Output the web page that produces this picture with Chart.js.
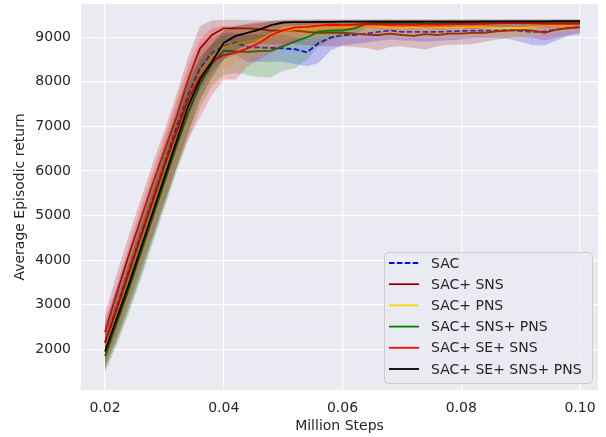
<!DOCTYPE html>
<html>
<head>
<meta charset="utf-8">
<script src="https://cdn.jsdelivr.net/npm/chart.js@4/dist/chart.umd.min.js"></script>
<style>
  body { margin: 0; background: #fff; }
  canvas { display: block; }
</style>
</head>
<body>
<canvas id="chart" width="606" height="437"></canvas>
<script>
// x positions (million steps)
const steps = [0.020, 0.022, 0.024, 0.026, 0.028, 0.030, 0.032, 0.034, 0.036, 0.038,
  0.040, 0.042, 0.044, 0.046, 0.048, 0.050, 0.052, 0.054, 0.056, 0.058,
  0.060, 0.062, 0.064, 0.066, 0.068, 0.070, 0.072, 0.074, 0.076, 0.078,
  0.080, 0.082, 0.084, 0.086, 0.088, 0.090, 0.092, 0.094, 0.096, 0.098, 0.100];

const xTicks = [0.02, 0.04, 0.06, 0.08, 0.10];
const yTicks = [2000, 3000, 4000, 5000, 6000, 7000, 8000, 9000];

// SAC
const sacMean = [2150, 2950, 3750, 4550, 5350, 6150, 6950, 7700, 8300, 8650,
  8800, 8880, 8780, 8770, 8760, 8750, 8730, 8660, 8870, 8990,
  9050, 9050, 9080, 9120, 9150, 9120, 9120, 9120, 9120, 9130,
  9140, 9150, 9150, 9150, 9160, 9140, 9120, 9130, 9170, 9210, 9230];
const sacLow = [1700, 2500, 3300, 4100, 4900, 5700, 6450, 7200, 7800, 8250,
  8500, 8600, 8450, 8450, 8450, 8450, 8400, 8350, 8420, 8700,
  8820, 8850, 8880, 8920, 8950, 8930, 8920, 8900, 8920, 8930,
  8950, 8980, 8990, 8980, 8960, 8900, 8820, 8820, 8920, 9020, 9050];
const sacHigh = [2600, 3400, 4200, 5000, 5800, 6600, 7400, 8150, 8750, 9000,
  9100, 9100, 9050, 9050, 9050, 9050, 9000, 8980, 9200, 9250,
  9280, 9290, 9300, 9310, 9320, 9300, 9300, 9300, 9300, 9310,
  9310, 9320, 9320, 9320, 9320, 9310, 9300, 9300, 9320, 9340, 9350];

// SAC+ SNS
const snsMean = [2380, 3250, 4100, 4900, 5700, 6450, 7200, 8050, 8750, 9050,
  9200, 9200, 9200, 9180, 9150, 9150, 9150, 9120, 9100, 9100,
  9100, 9080, 9060, 9050, 9080, 9050, 9030, 9070, 9050, 9080,
  9080, 9100, 9100, 9130, 9150, 9170, 9150, 9100, 9170, 9200, 9220];
const snsLow = [1950, 2800, 3650, 4450, 5250, 6000, 6750, 7550, 8250, 8700,
  8900, 8900, 8880, 8850, 8850, 8850, 8850, 8820, 8800, 8800,
  8800, 8780, 8760, 8700, 8780, 8800, 8760, 8720, 8800, 8830,
  8830, 8850, 8900, 8950, 8980, 9000, 8980, 8930, 8980, 9050, 9100];
const snsHigh = [2780, 3700, 4550, 5350, 6150, 6900, 7700, 8550, 9250, 9380,
  9390, 9390, 9380, 9380, 9370, 9370, 9370, 9360, 9360, 9360,
  9360, 9350, 9350, 9350, 9360, 9350, 9350, 9360, 9350, 9360,
  9360, 9370, 9370, 9370, 9370, 9380, 9370, 9360, 9370, 9380, 9380];

// SAC+ PNS
const pnsMean = [2050, 2800, 3600, 4400, 5200, 6000, 6800, 7600, 8150, 8550,
  8780, 8850, 8900, 8950, 9050, 9130, 9180, 9200, 9200, 9210,
  9230, 9220, 9220, 9240, 9220, 9200, 9220, 9200, 9220, 9210,
  9220, 9230, 9220, 9210, 9210, 9200, 9230, 9260, 9260, 9270, 9290];
const pnsLow = [1600, 2200, 2950, 3700, 4500, 5300, 6100, 6900, 7500, 8000,
  8300, 8450, 8500, 8600, 8750, 8900, 8980, 9000, 9000, 9020,
  9030, 9020, 9020, 9040, 9020, 9000, 9000, 8980, 9000, 9000,
  9020, 9030, 9020, 9000, 8980, 8950, 9000, 9080, 9100, 9130, 9150];
const pnsHigh = [2450, 3250, 4100, 4950, 5800, 6600, 7400, 8150, 8700, 9000,
  9150, 9200, 9250, 9270, 9300, 9330, 9350, 9360, 9360, 9360,
  9370, 9360, 9360, 9370, 9360, 9350, 9360, 9350, 9360, 9350,
  9360, 9370, 9360, 9350, 9350, 9340, 9360, 9380, 9380, 9380, 9390];

// SAC+ SNS+ PNS
const snsPnsMean = [1850, 2600, 3350, 4150, 4950, 5750, 6550, 7300, 7950, 8400,
  8700, 8680, 8670, 8690, 8700, 8800, 8900, 9000, 9120, 9150,
  9150, 9200, 9300, 9320, 9320, 9320, 9330, 9300, 9310, 9320,
  9320, 9330, 9330, 9320, 9320, 9330, 9330, 9320, 9330, 9340, 9340];
const snsPnsLow = [1480, 2100, 2800, 3550, 4350, 5150, 5950, 6700, 7400, 7900,
  8150, 8200, 8150, 8100, 8100, 8250, 8300, 8500, 8800, 8950,
  9000, 9050, 9200, 9230, 9230, 9230, 9240, 9200, 9220, 9230,
  9230, 9240, 9240, 9230, 9230, 9240, 9240, 9230, 9240, 9250, 9250];
const snsPnsHigh = [2200, 3050, 3850, 4700, 5500, 6300, 7100, 7850, 8450, 8850,
  9050, 9050, 9050, 9100, 9150, 9250, 9300, 9320, 9340, 9340,
  9340, 9350, 9380, 9390, 9390, 9390, 9390, 9380, 9380, 9390,
  9390, 9390, 9390, 9390, 9390, 9390, 9390, 9390, 9390, 9390, 9390];

// SAC+ SE+ SNS
const seSnsMean = [2150, 2900, 3700, 4500, 5300, 6100, 6850, 7600, 8100, 8450,
  8600, 8650, 8750, 8870, 9050, 9150, 9220, 9230, 9260, 9280,
  9270, 9280, 9300, 9290, 9280, 9290, 9270, 9290, 9280, 9290,
  9300, 9290, 9300, 9310, 9320, 9320, 9310, 9300, 9300, 9300, 9300];
const seSnsLow = [1650, 2300, 3050, 3800, 4550, 5300, 6050, 6700, 7200, 7700,
  8050, 8050, 8350, 8500, 8650, 8750, 8900, 9050, 9100, 9150,
  9150, 9170, 9200, 9180, 9170, 9180, 9160, 9180, 9170, 9180,
  9200, 9180, 9200, 9210, 9220, 9220, 9210, 9200, 9200, 9200, 9200];
const seSnsHigh = [2600, 3450, 4300, 5150, 5950, 6750, 7550, 8350, 8950, 9200,
  9250, 9250, 9280, 9300, 9350, 9370, 9380, 9380, 9390, 9390,
  9380, 9390, 9380, 9380, 9390, 9380, 9390, 9390, 9390, 9390,
  9390, 9390, 9380, 9380, 9390, 9390, 9390, 9390, 9390, 9390, 9390];

// SAC+ SE+ SNS+ PNS
const fullMean = [1950, 2700, 3450, 4250, 5050, 5850, 6650, 7450, 8050, 8450,
  8870, 9030, 9100, 9170, 9270, 9330, 9340, 9340, 9345, 9345,
  9350, 9350, 9350, 9350, 9350, 9350, 9350, 9350, 9350, 9350,
  9350, 9350, 9355, 9355, 9355, 9355, 9355, 9355, 9360, 9360, 9360];
const fullLow = [1550, 2200, 2900, 3650, 4450, 5250, 6050, 6850, 7600, 8100,
  8500, 8700, 8850, 8950, 9100, 9250, 9270, 9280, 9290, 9290,
  9290, 9290, 9290, 9290, 9290, 9290, 9290, 9290, 9290, 9290,
  9290, 9290, 9300, 9300, 9300, 9300, 9300, 9300, 9300, 9300, 9300];
const fullHigh = [2350, 3150, 3950, 4800, 5600, 6400, 7200, 8000, 8550, 8850,
  9150, 9250, 9300, 9330, 9370, 9390, 9400, 9400, 9400, 9400,
  9400, 9400, 9400, 9400, 9400, 9400, 9400, 9400, 9400, 9400,
  9400, 9400, 9400, 9400, 9400, 9400, 9400, 9400, 9400, 9400, 9400];

const labels = ['SAC', 'SAC+ SNS', 'SAC+ PNS', 'SAC+ SNS+ PNS', 'SAC+ SE+ SNS', 'SAC+ SE+ SNS+ PNS'];
const colors = ['#0000ff', '#8b0000', '#ffd700', '#008000', '#ff0000', '#000000'];
const bandColors = ['rgba(0,0,255,0.2)', 'rgba(139,0,0,0.2)', 'rgba(255,215,0,0.2)',
  'rgba(0,128,0,0.2)', 'rgba(255,0,0,0.2)', 'rgba(0,0,0,0.2)'];
const means = [sacMean, snsMean, pnsMean, snsPnsMean, seSnsMean, fullMean];
const lows = [sacLow, snsLow, pnsLow, snsPnsLow, seSnsLow, fullLow];
const highs = [sacHigh, snsHigh, pnsHigh, snsPnsHigh, seSnsHigh, fullHigh];

const FONT = 'DejaVu Sans';
const TEXT = '#262626';

function pts(arr) {
  return arr.map((v, i) => ({ x: steps[i], y: v }));
}

const datasets = [];
labels.forEach((name, k) => {
  const base = 100 - k * 3;
  datasets.push({
    label: name + ' low', data: pts(lows[k]), borderWidth: 0, pointRadius: 0,
    fill: false, order: base
  });
  datasets.push({
    label: name + ' high', data: pts(highs[k]), borderWidth: 0, pointRadius: 0,
    fill: '-1', backgroundColor: bandColors[k], order: base - 1
  });
  datasets.push({
    label: name, data: pts(means[k]), borderColor: colors[k], borderWidth: 1.8,
    borderDash: k === 0 ? [5.5, 2.4] : [], pointRadius: 0, fill: false, order: base - 2
  });
});

const plotBg = {
  id: 'plotBg',
  beforeDraw(chart) {
    const { ctx, chartArea: a } = chart;
    ctx.save();
    ctx.fillStyle = '#ffffff';
    ctx.fillRect(0, 0, chart.width, chart.height);
    ctx.fillStyle = '#eaeaf2';
    ctx.fillRect(a.left, a.top, a.right - a.left, a.bottom - a.top);
    ctx.restore();
  }
};

// legend drawn inside the axes, lower right
const innerLegend = {
  id: 'innerLegend',
  afterDraw(chart) {
    const ctx = chart.ctx;
    const x0 = 384, y0 = 252, w = 208, h = 131, r = 4;
    ctx.save();
    ctx.beginPath();
    ctx.roundRect(x0 + 0.5, y0 + 0.5, w, h, r);
    ctx.fillStyle = 'rgba(234,234,242,0.8)';
    ctx.fill();
    ctx.strokeStyle = '#cccccc';
    ctx.lineWidth = 1;
    ctx.stroke();
    ctx.font = '14px "' + FONT + '"';
    ctx.textBaseline = 'middle';
    ctx.fillStyle = TEXT;
    labels.forEach((name, k) => {
      const y = 263 + k * 21.2;
      ctx.beginPath();
      ctx.setLineDash(k === 0 ? [5.5, 2.4] : []);
      ctx.strokeStyle = colors[k];
      ctx.lineWidth = 1.8;
      ctx.moveTo(389, y);
      ctx.lineTo(419, y);
      ctx.stroke();
      ctx.setLineDash([]);
      ctx.fillText(name, 431, y + 1);
    });
    ctx.restore();
  }
};

new Chart(document.getElementById('chart'), {
  type: 'line',
  data: { datasets },
  options: {
    responsive: false,
    animation: false,
    layout: { padding: { top: 4, right: 8, left: 0, bottom: 0 } },
    plugins: { legend: { display: false }, tooltip: { enabled: false } },
    scales: {
      x: {
        type: 'linear',
        min: 0.01596,
        max: 0.10303,
        afterBuildTicks: axis => { axis.ticks = xTicks.map(v => ({ value: v })); },
        afterFit: axis => { axis.height = 47; axis.paddingLeft = 0; axis.paddingRight = 0; },
        ticks: {
          callback: v => v.toFixed(2),
          font: { family: FONT, size: 14 }, color: TEXT, padding: 10, maxRotation: 0
        },
        grid: { color: '#ffffff', lineWidth: 1.2, drawTicks: false },
        border: { display: false },
        title: {
          display: true, text: 'Million Steps', color: TEXT,
          font: { family: FONT, size: 14 }, padding: { top: 0, bottom: 2 }
        }
      },
      y: {
        min: 1087,
        max: 9745,
        afterBuildTicks: axis => { axis.ticks = yTicks.map(v => ({ value: v })); },
        afterFit: axis => { axis.width = 81; axis.paddingTop = 0; axis.paddingBottom = 0; },
        ticks: {
          callback: v => String(v),
          font: { family: FONT, size: 14 }, color: TEXT, padding: 10
        },
        grid: { color: '#ffffff', lineWidth: 1.2, drawTicks: false },
        border: { display: false },
        title: {
          display: true, text: 'Average Episodic return', color: TEXT,
          font: { family: FONT, size: 14 }, padding: { top: 12, bottom: 0 }
        }
      }
    }
  },
  plugins: [plotBg, innerLegend]
});
</script>
</body>
</html>
